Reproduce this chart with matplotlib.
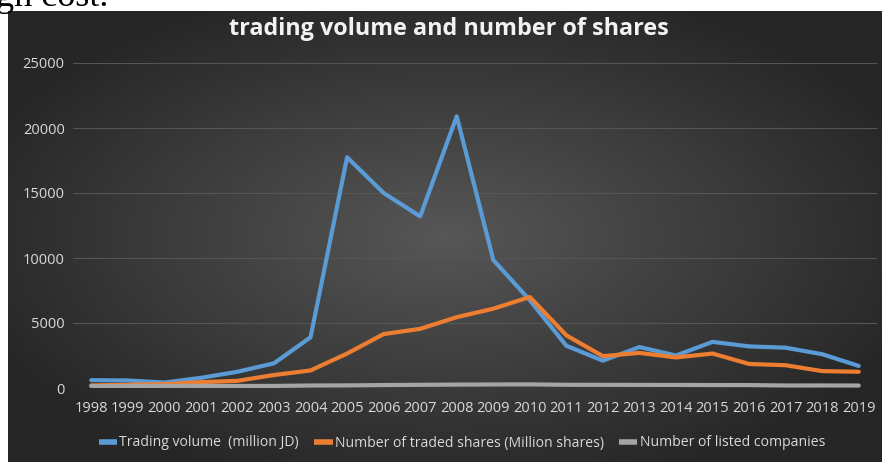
import numpy as np
import matplotlib.pyplot as plt

years = [str(y) for y in range(1998, 2020)]
trading_volume = [600, 580, 420, 780, 1250, 1900, 3900, 17750, 15000, 13200, 20900,
                  9850, 6750, 3250, 2100, 3150, 2500, 3550, 3200, 3100, 2600, 1700]
traded_shares = [200, 250, 300, 450, 550, 1000, 1350, 2650, 4150, 4550, 5450,
                 6100, 7000, 4050, 2450, 2700, 2350, 2650, 1850, 1750, 1300, 1250]
listed_companies = [150, 152, 163, 161, 158, 161, 192, 201, 227, 245, 262,
                    272, 277, 247, 243, 240, 236, 228, 224, 194, 195, 191]
series_names = ["Trading volume  (million JD)",
                "Number of traded shares (Million shares)",
                "Number of listed companies"]

W, H = 882, 462
fig = plt.figure(figsize=(W / 100, H / 100), dpi=100)
fig.patch.set_facecolor("white")

# text from the page above the chart (cut off)
fig.text(-4 / W, 1 - 6 / H, "gh cost.", family="Liberation Serif", fontsize=26,
         va="baseline", ha="left", color="black")

# dark radial gradient background of the chart
bg = fig.add_axes([8 / W, 0, (W - 8) / W, (H - 11) / H])
gx, gy = np.meshgrid(np.linspace(-1, 1, 400), np.linspace(-1, 1, 220))
r = np.clip(np.sqrt(gx ** 2 + gy ** 2) / 1.15, 0, 1)
c0, c1 = 0.34, 0.15
img = c0 + (c1 - c0) * r
bg.imshow(np.dstack([img, img, img]), aspect="auto", extent=[0, 1, 0, 1])
bg.axis("off")

ax = fig.add_axes([73 / W, 1 - 388 / H, (877 - 73) / W, (388 - 63) / H])
ax.patch.set_alpha(0)
x = np.arange(len(years))
colors = ["#5B9BD5", "#ED7D31", "#A5A5A5"]
for vals, name, col in zip([trading_volume, traded_shares, listed_companies], series_names, colors):
    ax.plot(x, vals, color=col, lw=3.0, label=name, solid_capstyle="round", solid_joinstyle="round")

ax.set_xlim(-0.5, len(years) - 0.5)
ax.set_ylim(0, 25000)
ax.set_yticks(range(0, 25001, 5000))
ax.set_xticks(x)
ax.set_xticklabels(years)
ax.grid(axis="y", color="#555555", lw=0.8)
ax.set_axisbelow(True)
for s in ax.spines.values():
    s.set_visible(False)
ax.tick_params(length=0, colors="#D9D9D9", labelsize=10.5, pad=9)
ax.tick_params(axis="y", pad=6)
for lab in ax.get_xticklabels() + ax.get_yticklabels():
    lab.set_family("Open Sans")

fig.text(449 / W, 1 - 29 / H, "trading volume and number of shares", ha="center", va="center",
         color="#F2F2F2", fontsize=16.8, fontweight="bold", family="Open Sans")

leg = fig.legend(loc="center", bbox_to_anchor=(462 / W, 1 - 443 / H), ncol=3, frameon=False,
                 prop={"family": "Open Sans", "size": 10.1}, handlelength=1.3,
                 handletextpad=0.15, columnspacing=1.1)
for t in leg.get_texts():
    t.set_color("#D9D9D9")
for h in leg.get_lines():
    h.set_linewidth(4)
    h.set_solid_capstyle("butt")

fig.savefig("out.png", dpi=100)
